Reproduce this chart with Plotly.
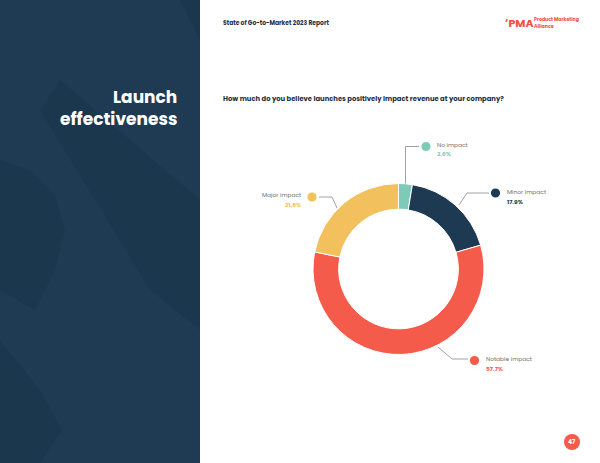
import plotly.graph_objects as go

# ---- data ----
categories = ["No impact", "Minor impact", "Notable impact", "Major impact"]
values = [2.6, 17.9, 57.7, 21.8]
colors = ["#7ecab8", "#1e3a52", "#f45b4a", "#f3c05e"]

W, H = 600, 463


def px(x):
    return x / W


def py(y):
    return 1 - y / H


fig = go.Figure()
fig.add_trace(go.Pie(
    labels=categories, values=values, sort=False, direction="clockwise",
    rotation=0, hole=0.70, textinfo="none", hoverinfo="label+percent",
    marker=dict(colors=colors, line=dict(color="white", width=1)),
    domain=dict(x=[px(312.5), px(484.5)], y=[py(354.5), py(183.5)]),
    showlegend=False,
))

shapes = []
# left panel
shapes.append(dict(type="rect", xref="paper", yref="paper", x0=0, x1=px(200), y0=0, y1=1,
                   fillcolor="#1e3b53", line=dict(width=0), layer="below"))


def path(points):
    s = "M " + " L ".join(f"{px(x)},{py(y)}" for x, y in points) + " Z"
    return s


# faint background shapes on the left panel
faint = "rgba(20,45,65,0.25)"
shapes.append(dict(type="path", xref="paper", yref="paper",
                   path=path([(60, 80), (200, 200), (200, 330), (150, 290), (40, 110)]),
                   fillcolor=faint, line=dict(width=0), layer="below"))
shapes.append(dict(type="path", xref="paper", yref="paper",
                   path=path([(0, 160), (30, 170), (55, 195), (65, 230), (55, 270), (35, 310), (0, 290)]),
                   fillcolor=faint, line=dict(width=0), layer="below"))
shapes.append(dict(type="path", xref="paper", yref="paper",
                   path=path([(0, 340), (40, 390), (62, 430), (40, 463), (0, 463)]),
                   fillcolor=faint, line=dict(width=0), layer="below"))
shapes.append(dict(type="path", xref="paper", yref="paper",
                   path=path([(180, 0), (200, 0), (200, 40)]),
                   fillcolor=faint, line=dict(width=0), layer="below"))

# leader lines (decorative)
leader_col = "#8a8a8a"
leaders = [
    [(419, 146.5), (405.5, 146.5), (405.5, 183.5)],
    [(489, 193), (467, 193), (459, 205)],
    [(319, 197), (332, 197), (337, 208)],
    [(468, 359), (452, 359), (438, 347)],
]
for pts in leaders:
    d = "M " + " L ".join(f"{px(x)},{py(y)}" for x, y in pts)
    shapes.append(dict(type="path", xref="paper", yref="paper", path=d,
                       line=dict(color=leader_col, width=0.8)))

# label dots
dots = [(426, 146.5), (495.5, 193), (474.5, 360.5), (312, 197)]
for (x, y), c in zip(dots, colors):
    r = 4.6
    shapes.append(dict(type="circle", xref="paper", yref="paper",
                       x0=px(x - r), x1=px(x + r), y0=py(y + r), y1=py(y - r),
                       fillcolor=c, line=dict(width=0)))

# page number circle
shapes.append(dict(type="circle", xref="paper", yref="paper",
                   x0=px(564), x1=px(580), y0=py(450), y1=py(434),
                   fillcolor="#f45b4a", line=dict(width=0)))

FONT = "Poppins, Lato, sans-serif"
ann = []


def text(x, y, s, size, color, anchor="left", bold=False):
    ann.append(dict(xref="paper", yref="paper", x=px(x), y=py(y), text=(f"<b>{s}</b>" if bold else s),
                    showarrow=False, xanchor=anchor, yanchor="middle",
                    font=dict(family=FONT, size=size, color=color)))


# left title
text(179, 97, "Launch", 17, "white", "right", True)
text(179, 119, "effectiveness", 17, "white", "right", True)
# header
text(221, 23, "State of Go-to-Market 2023 Report", 6.0, "#1e2f3f", "left", True)
text(221, 98, "How much do you believe launches positively impact revenue at your company?", 6.8, "#1e2f3f", "left", True)
# logo
text(503, 23, "ʼPMA", 11, "#f04e3e", "left", True)
text(532, 19.5, "Product Marketing", 4.7, "#f04e3e", "left", True)
text(532, 26, "Alliance", 4.7, "#f04e3e", "left", True)

# slice labels
label_pos = [(435, "left"), (505, "left"), (484, "left"), (303, "right")]
label_y = [(145, 154), (192, 202), (359, 369), (195, 205)]
for i, cat in enumerate(categories):
    x, anc = label_pos[i]
    y1, y2 = label_y[i]
    text(x, y1, cat, 5.9, "#707070", anc)
    text(x, y2, f"{values[i]}%", 5.9, colors[i], anc, True)

# page number
text(572, 442, "47", 6, "white", "center", True)

fig.update_layout(
    width=W, height=H, margin=dict(l=0, r=0, t=0, b=0),
    paper_bgcolor="white", plot_bgcolor="white",
    shapes=shapes, annotations=ann, showlegend=False,
)

fig.write_html("out.html", config={"displayModeBar": False},
               post_script="document.body.style.margin='0';document.body.style.overflow='hidden';")
